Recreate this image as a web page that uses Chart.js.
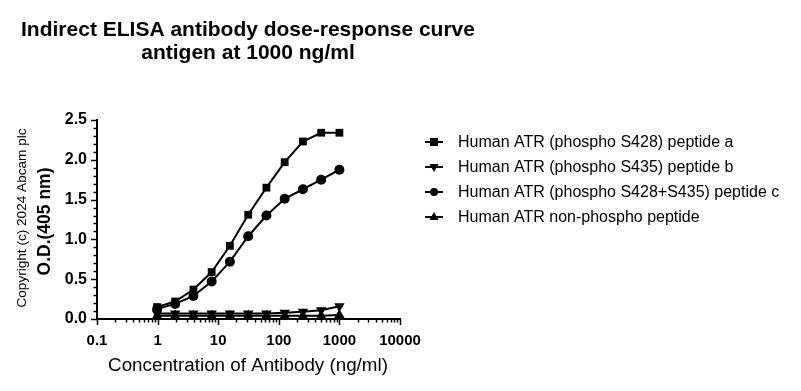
<!DOCTYPE html>
<html>
<head>
<meta charset="utf-8">
<script src="https://cdn.jsdelivr.net/npm/chart.js@4.4.1/dist/chart.umd.min.js"></script>
<style>
  html, body { margin: 0; padding: 0; background: #fff; }
</style>
</head>
<body>
<canvas id="c" width="801" height="391"></canvas>
<script>
// antibody concentrations (ng/ml), 2-fold dilution from 1000
const concentrations = [0.98, 1.95, 3.9, 7.8, 15.6, 31.25, 62.5, 125, 250, 500, 1000];
const peptideA = [0.15, 0.22, 0.37, 0.59, 0.92, 1.31, 1.65, 1.97, 2.23, 2.34, 2.34];
const peptideB = [0.07, 0.07, 0.07, 0.07, 0.07, 0.07, 0.07, 0.08, 0.09, 0.11, 0.16];
const peptideC = [0.125, 0.19, 0.29, 0.47, 0.72, 1.04, 1.30, 1.51, 1.63, 1.75, 1.875];
const nonPhospho = [0.04, 0.04, 0.04, 0.04, 0.04, 0.04, 0.04, 0.04, 0.04, 0.04, 0.05];

const seriesLabels = [
  'Human ATR (phospho S428) peptide a',
  'Human ATR (phospho S435) peptide b',
  'Human ATR (phospho S428+S435) peptide c',
  'Human ATR non-phospho peptide'
];
const xTicks = [0.1, 1, 10, 100, 1000, 10000];
const xTickLabels = ['0.1', '1', '10', '100', '1000', '10000'];
const yTicks = [0, 0.5, 1.0, 1.5, 2.0, 2.5];

const FONT = '"Liberation Sans", Arial, sans-serif';

function pts(ys) {
  return concentrations.map((x, i) => ({ x: x, y: ys[i] }));
}

const markers = [
  { style: 'rect', rotation: 0, radius: 5.5 },
  { style: 'triangle', rotation: 180, radius: 6 },
  { style: 'circle', rotation: 0, radius: 5 },
  { style: 'triangle', rotation: 0, radius: 6 }
];

const allSeries = [peptideA, peptideB, peptideC, nonPhospho];

const datasets = allSeries.map((s, i) => ({
  label: seriesLabels[i],
  data: pts(s),
  showLine: true,
  borderColor: '#000',
  backgroundColor: '#000',
  borderWidth: 2,
  pointStyle: markers[i].style,
  rotation: markers[i].rotation,
  pointRadius: markers[i].radius,
  pointBorderWidth: 0,
  clip: false
}));

function drawMarker(ctx, style, rot, x, y, r) {
  ctx.save();
  ctx.translate(x, y);
  ctx.rotate(rot * Math.PI / 180);
  ctx.beginPath();
  if (style === 'rect') {
    ctx.rect(-r, -r, 2 * r, 2 * r);
  } else if (style === 'circle') {
    ctx.arc(0, 0, r, 0, Math.PI * 2);
  } else {
    ctx.moveTo(0, -r);
    ctx.lineTo(r * 0.9, r * 0.6);
    ctx.lineTo(-r * 0.9, r * 0.6);
    ctx.closePath();
  }
  ctx.fill();
  ctx.restore();
}

const decor = {
  id: 'decor',
  afterDraw(chart) {
    const ctx = chart.ctx;
    const xs = chart.scales.x, ys = chart.scales.y;
    const area = chart.chartArea;
    ctx.save();
    ctx.strokeStyle = '#000';
    ctx.fillStyle = '#000';
    ctx.lineWidth = 1.5;

    // x ticks, major at decades and minor between
    for (let d = 0.1; d <= 10000.5; d *= 10) {
      for (let k = 1; k <= 9; k++) {
        const v = d * k;
        if (v > 10000.5) break;
        const px = Math.round(xs.getPixelForValue(v)) + 0.5;
        const len = k === 1 ? 6 : 3.5;
        ctx.beginPath();
        ctx.moveTo(px, area.bottom);
        ctx.lineTo(px, area.bottom + len);
        ctx.stroke();
      }
    }
    // y ticks, major every 0.5, minor every 0.1
    for (let i = 0; i <= 25; i++) {
      const py = Math.round(ys.getPixelForValue(i / 10)) + 0.5;
      const len = i % 5 === 0 ? 6 : 3.5;
      ctx.beginPath();
      ctx.moveTo(area.left, py);
      ctx.lineTo(area.left - len, py);
      ctx.stroke();
    }

    // title
    ctx.textAlign = 'center';
    ctx.textBaseline = 'middle';
    ctx.font = 'bold 21px ' + FONT;
    ctx.fillText('Indirect ELISA antibody dose-response curve', 248, 30);
    ctx.fillText('antigen at 1000 ng/ml', 248, 53);

    // x title
    ctx.font = '18.8px ' + FONT;
    ctx.fillText('Concentration of Antibody (ng/ml)', 248, 366);

    // y title and copyright
    ctx.save();
    ctx.translate(45, (area.top + area.bottom) / 2 + 2);
    ctx.rotate(-Math.PI / 2);
    ctx.font = 'bold 17.5px ' + FONT;
    ctx.fillText('O.D.(405 nm)', 0, 0);
    ctx.restore();
    ctx.save();
    ctx.translate(22, 218);
    ctx.rotate(-Math.PI / 2);
    ctx.font = '13.6px ' + FONT;
    ctx.fillText('Copyright (c) 2024 Abcam plc', 0, 0);
    ctx.restore();

    // legend
    ctx.textAlign = 'left';
    ctx.font = '16px ' + FONT;
    chart.data.datasets.forEach((ds, i) => {
      const ly = 142 + i * 25;
      ctx.lineWidth = 2;
      ctx.beginPath();
      ctx.moveTo(425, ly);
      ctx.lineTo(443, ly);
      ctx.stroke();
      drawMarker(ctx, markers[i].style, markers[i].rotation, 434, ly, markers[i].style === 'triangle' ? 5 : 4);
      ctx.fillText(ds.label, 458, ly + 1);
    });
    ctx.restore();
  }
};

new Chart(document.getElementById('c'), {
  type: 'scatter',
  data: { datasets: datasets },
  options: {
    responsive: false,
    animation: false,
    layout: { padding: { left: 0, top: 120, right: 401, bottom: 0 } },
    plugins: {
      legend: { display: false },
      title: { display: false },
      tooltip: { enabled: false }
    },
    scales: {
      x: {
        type: 'logarithmic',
        min: 0.1,
        max: 10000,
        afterBuildTicks: s => { s.ticks = xTicks.map(v => ({ value: v })); },
        afterFit: s => { s.height = 72; },
        grid: { display: false, drawTicks: false },
        border: { display: true, color: '#000', width: 2 },
        ticks: {
          color: '#000',
          font: { family: FONT, size: 15, weight: 'bold' },
          padding: 13,
          maxRotation: 0,
          autoSkip: false,
          callback: (v) => {
            const idx = xTicks.findIndex(t => Math.abs(t - v) < t * 1e-6);
            return idx >= 0 ? xTickLabels[idx] : '';
          }
        }
      },
      y: {
        min: 0,
        max: 2.5,
        afterBuildTicks: s => { s.ticks = yTicks.map(v => ({ value: v })); },
        afterFit: s => { s.width = 97; },
        grid: { display: false, drawTicks: false },
        border: { display: true, color: '#000', width: 2 },
        ticks: {
          color: '#000',
          font: { family: FONT, size: 16, weight: 'bold' },
          padding: 10,
          callback: v => v.toFixed(1)
        }
      }
    }
  },
  plugins: [decor]
});
</script>
</body>
</html>
